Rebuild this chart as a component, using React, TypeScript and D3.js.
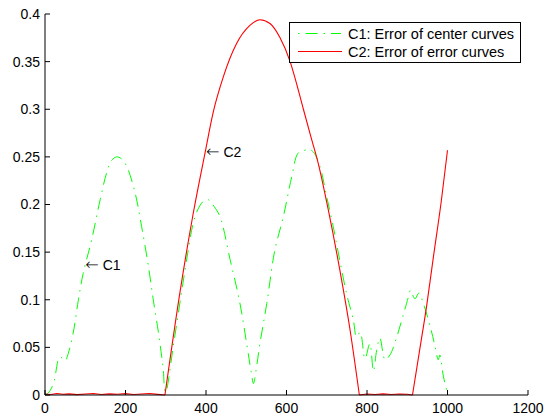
import React from "react";
import * as d3 from "d3";

// C1: Error of center curves (green dash-dot)
const c1X = [0, 8, 21, 37, 50, 58, 70, 83, 95, 116, 137, 153, 165, 178, 190, 203, 224, 240, 257, 269, 282, 290, 294, 298,
  300, 320, 340, 355, 368, 380, 395, 406, 420, 435, 460, 484, 501, 512, 518, 524, 534, 551, 571, 592, 613, 629, 646, 655,
  667, 683, 700, 716, 733, 750, 766, 774, 783, 795, 807, 816, 824, 832, 845, 857, 874, 890, 903, 908, 919, 929, 940, 957,
  969, 977, 981, 990, 1000];
const c1Y = [0, 0.002, 0.012, 0.04, 0.036, 0.044, 0.065, 0.1, 0.128, 0.163, 0.205, 0.233, 0.246, 0.25, 0.248, 0.24, 0.212,
  0.177, 0.135, 0.1, 0.065, 0.04, 0.026, 0.004,
  0.003, 0.055, 0.11, 0.15, 0.18, 0.195, 0.204, 0.205, 0.198, 0.187, 0.142, 0.097, 0.054, 0.025, 0.012, 0.025, 0.054, 0.096,
  0.152, 0.187, 0.229, 0.254, 0.257, 0.258,
  0.255, 0.24, 0.208, 0.177, 0.14, 0.105, 0.079, 0.061, 0.066, 0.038, 0.054, 0.025, 0.047, 0.06, 0.037, 0.042, 0.061, 0.084,
  0.103, 0.11, 0.101, 0.107, 0.096, 0.072, 0.051, 0.037, 0.042, 0.019, 0.002];

// C2: Error of error curves (red solid)
const c2X = [0, 15, 30, 45, 60, 80, 100, 120, 140, 160, 180, 200, 220, 240, 260, 280, 298, 335, 368, 398, 418, 443, 476, 509,
  534, 559, 584, 609, 625, 642, 660, 679, 704, 733, 758, 781, 800, 820, 840, 860, 880, 900, 913, 930, 948, 965, 985, 1000];
const c2Y = [0.001, 0.0005, 0.0015, 0.0008, 0.0012, 0.0004, 0.001, 0.0016, 0.0006, 0.0012, 0.0008, 0.0014, 0.0005, 0.001,
  0.0015, 0.0007, 0, 0.107, 0.19, 0.255, 0.297, 0.334, 0.369, 0.388, 0.394, 0.39, 0.375, 0.35, 0.327, 0.3, 0.272, 0.243,
  0.194, 0.13, 0.068, 0, 0.001, 0.0005, 0.0012, 0.0006, 0.001, 0.0008, 0, 0.045, 0.093, 0.145, 0.205, 0.257];

const xTicks = [0, 200, 400, 600, 800, 1000, 1200];
const xTickLabels = ["0", "200", "400", "600", "800", "1000", "1200"];
const yTicks = [0, 0.05, 0.1, 0.15, 0.2, 0.25, 0.3, 0.35, 0.4];
const yTickLabels = ["0", "0.05", "0.1", "0.15", "0.2", "0.25", "0.3", "0.35", "0.4"];

const legendLabels = ["C1: Error of center curves", "C2: Error of error curves"];
const annotations = [
  { label: "C1", x: 100, y: 0.136 },
  { label: "C2", x: 400, y: 0.255 },
];

const FONT = "'Liberation Sans', Arial, Helvetica, sans-serif";

export default function App() {
  const x = d3.scaleLinear().domain([0, 1200]).range([45, 528]);
  const y = d3.scaleLinear().domain([0, 0.4]).range([395, 14]);
  const linear = d3
    .line<[number, number]>()
    .x((d) => x(d[0]))
    .y((d) => y(d[1]));
  const smooth = d3
    .line<[number, number]>()
    .curve(d3.curveMonotoneX)
    .x((d) => x(d[0]))
    .y((d) => y(d[1]));
  const green = d3
    .line<[number, number]>()
    .curve(d3.curveCatmullRom.alpha(0.5))
    .x((d) => x(d[0]))
    .y((d) => y(d[1]));
  const c1 = c1X.map((v, i) => [v, c1Y[i]] as [number, number]);
  const c2 = c2X.map((v, i) => [v, c2Y[i]] as [number, number]);

  // split the red series at its exact zeros: flat parts straight, humps smooth
  const zeroIdx = c2Y.map((v, i) => (v === 0 ? i : -1)).filter((i) => i >= 0);
  const bounds = [0, ...zeroIdx, c2.length - 1];
  const c2Paths: string[] = [];
  for (let k = 0; k < bounds.length - 1; k++) {
    const seg = c2.slice(bounds[k], bounds[k + 1] + 1);
    const isHump = seg.some((p) => p[1] > 0.01);
    c2Paths.push((isHump ? smooth(seg) : linear(seg)) || "");
  }

  return (
    <svg
      width={550}
      height={418}
      style={{ position: "absolute", left: 0, top: 0, background: "#fff" }}
      fontFamily={FONT}
    >
      <rect x={0} y={0} width={550} height={418} fill="#fff" />
      <path d={green(c1) || ""} fill="none" stroke="#00ff00" strokeWidth={1} strokeDasharray="12,6,1.5,6" />
      {c2Paths.map((d, i) => (
        <path key={"c2" + i} d={d} fill="none" stroke="#ff0000" strokeWidth={1.1} strokeLinejoin="round" />
      ))}

      {/* axes */}
      <line x1={x(0)} x2={x(1200)} y1={y(0)} y2={y(0)} stroke="#000" strokeWidth={1} />
      <line x1={x(0)} x2={x(0)} y1={y(0)} y2={y(0.4)} stroke="#000" strokeWidth={1} />
      {xTicks.map((t, i) => (
        <g key={"xt" + i}>
          <line x1={x(t)} x2={x(t)} y1={y(0)} y2={y(0) - 5} stroke="#000" strokeWidth={1} />
          <text x={x(t)} y={413} textAnchor="middle" fontSize={14} fill="#000">
            {xTickLabels[i]}
          </text>
        </g>
      ))}
      {yTicks.map((t, i) => (
        <g key={"yt" + i}>
          <line x1={x(0)} x2={x(0) + 5} y1={y(t)} y2={y(t)} stroke="#000" strokeWidth={1} />
          <text x={40} y={y(t)} dy="0.35em" textAnchor="end" fontSize={14} fill="#000">
            {yTickLabels[i]}
          </text>
        </g>
      ))}

      {/* annotations */}
      {annotations.map((a, i) => (
        <text key={"an" + i} x={x(a.x)} y={y(a.y)} dy="0.35em" fontSize={14} fill="#000">
          <tspan fontFamily="'DejaVu Sans', sans-serif" fontWeight={200} fontSize={16}>←</tspan>
          <tspan dx={4}>{a.label}</tspan>
        </text>
      ))}

      {/* legend */}
      <rect x={289.5} y={22.5} width={231} height={40} fill="#fff" stroke="#000" strokeWidth={1} />
      <line x1={298} x2={341} y1={33.5} y2={33.5} stroke="#00ff00" strokeWidth={1} strokeDasharray="1.5,6,12,6" />
      <line x1={298} x2={342} y1={51.5} y2={51.5} stroke="#ff0000" strokeWidth={1.1} />
      <text x={348} y={33.5} dy="0.35em" fontSize={14.5} fill="#000">
        {legendLabels[0]}
      </text>
      <text x={348} y={51.5} dy="0.35em" fontSize={14.5} fill="#000">
        {legendLabels[1]}
      </text>
    </svg>
  );
}
